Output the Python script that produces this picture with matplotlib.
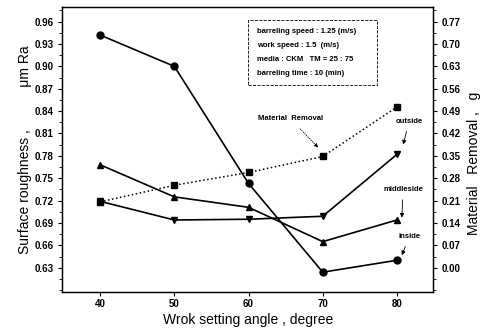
import matplotlib
matplotlib.use('Agg')
import matplotlib.pyplot as plt
import matplotlib.ticker as ticker
from matplotlib.patches import Rectangle

plt.rcParams['font.family'] = ['Liberation Sans Narrow', 'Liberation Sans', 'DejaVu Sans']

# data
angles = [40, 50, 60, 70, 80]
inside = [0.942, 0.900, 0.743, 0.624, 0.640]
middleside = [0.768, 0.725, 0.711, 0.665, 0.694]
outside = [0.719, 0.694, 0.695, 0.699, 0.782]
material_removal = [0.206, 0.258, 0.298, 0.348, 0.503]

left_ticks = [0.96, 0.93, 0.90, 0.87, 0.84, 0.81, 0.78, 0.75, 0.72, 0.69, 0.66, 0.63]
right_ticks = [0.77, 0.70, 0.63, 0.56, 0.49, 0.42, 0.35, 0.28, 0.21, 0.14, 0.07, 0.00]

info_lines = [
    'barreling speed : 1.25 (m/s)',
    'work speed : 1.5  (m/s)',
    'media : CKM   TM = 25 : 75',
    'barreling time : 10 (min)',
]

tick_font = dict(size=7, weight='bold')
note_font = dict(size=5.5, weight='bold')
label_family = ['Liberation Sans', 'DejaVu Sans']

fig = plt.figure(figsize=(4.91, 3.36), dpi=100)
ax = fig.add_axes([0.1269, 0.13, 0.7556, 0.85])
ax2 = ax.twinx()

lw = 1.2
ax.plot(angles, inside, color='black', lw=lw, marker='o', ms=5)
ax.plot(angles, middleside, color='black', lw=lw, marker='^', ms=5)
ax.plot(angles, outside, color='black', lw=lw, marker='v', ms=5)
ax2.plot(angles, material_removal, color='black', lw=1.1, ls=':', marker='s', ms=4.5)

ax.set_xlim(34.9, 84.9)
ax.set_ylim(0.597, 0.980)
ax2.set_ylim((0.597 - 0.63) * 7 / 3, (0.980 - 0.63) * 7 / 3)

ax.set_xticks(angles)
ax.set_xticklabels([str(a) for a in angles], fontdict=tick_font)
ax.set_yticks(left_ticks)
ax.set_yticklabels([f'{t:.2f}' for t in left_ticks], fontdict=tick_font)
ax.yaxis.set_minor_locator(ticker.MultipleLocator(0.015))
ax2.set_yticks(right_ticks)
ax2.set_yticklabels([f'{t:.2f}' for t in right_ticks], fontdict=tick_font)
ax2.yaxis.set_minor_locator(ticker.MultipleLocator(0.035))

for a in (ax, ax2):
    a.tick_params(which='major', direction='out', length=3, width=0.8, pad=3)
    a.tick_params(which='minor', direction='out', length=2, width=0.6)
    for s in a.spines.values():
        s.set_linewidth(0.9)
ax.tick_params(axis='x', pad=2)

ax.set_xlabel('Wrok setting angle , degree', fontsize=10, family=label_family, labelpad=3)
ax.set_ylabel('Surface roughness ,           \u03bcm Ra', fontsize=10, family=label_family, labelpad=2)
ax2.set_ylabel('Material   Removal ,   g', fontsize=10, family=label_family, labelpad=1)
ax2.yaxis.set_label_coords(1.092, 0.45)

# condition box
ax.add_patch(Rectangle((0.501, 0.726), 0.3465, 0.228, transform=ax.transAxes,
                       fill=False, ec='black', lw=0.6, ls='--'))
for i, line in enumerate(info_lines):
    ax.text(0.524, 0.9136 - i * 0.0491, line, transform=ax.transAxes,
            va='center', ha='left', **note_font)

arrow = dict(arrowstyle='-|>', color='black', lw=0.6, mutation_scale=6)
ax.annotate('Material  Removal', xy=(69.4, 0.791), xytext=(65.6, 0.830),
            ha='center', va='center', fontsize=5.5, fontweight='bold',
            arrowprops=dict(arrowstyle='-|>', color='black', lw=0.6, ls=':', mutation_scale=6, shrinkA=4, shrinkB=0))
ax.annotate('outside', xy=(80.84, 0.7952), xytext=(81.64, 0.8266),
            ha='center', va='center', fontsize=5.5, fontweight='bold',
            arrowprops=dict(arrow, shrinkA=3, shrinkB=0))
ax.annotate('middleside', xy=(80.66, 0.6972), xytext=(80.84, 0.735),
            ha='center', va='center', fontsize=5.5, fontweight='bold',
            arrowprops=dict(arrow, shrinkA=3, shrinkB=0))
ax.annotate('inside', xy=(80.66, 0.6468), xytext=(81.68, 0.6718),
            ha='center', va='center', fontsize=5.5, fontweight='bold',
            arrowprops=dict(arrow, shrinkA=3, shrinkB=0))

fig.savefig('out.png', dpi=100)
